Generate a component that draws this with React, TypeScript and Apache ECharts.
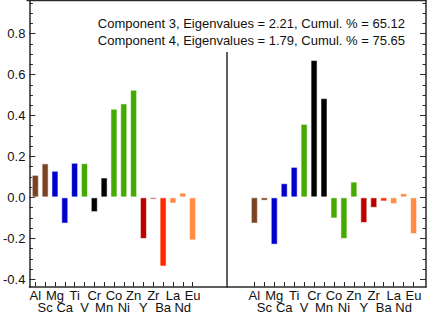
import React, { useEffect, useRef } from "react";
import * as echarts from "echarts";

const elements = ["Al", "Sc", "Mg", "Ca", "Ti", "V", "Cr", "Mn", "Co", "Ni", "Zn", "Y", "Zr", "Ba", "La", "Nd", "Eu"];
const comp3 = [0.11, 0.166, 0.13, -0.128, 0.169, 0.167, -0.072, 0.097, 0.433, 0.459, 0.526, -0.203, -0.01, -0.338, -0.03, 0.023, -0.21];
const comp4 = [-0.128, -0.016, -0.231, 0.069, 0.149, 0.359, 0.671, 0.485, -0.103, -0.203, 0.077, -0.125, -0.051, -0.02, -0.033, 0.02, -0.179];
const elementGroups = ["brown", "brown", "blue", "blue", "blue", "green", "black", "black", "green", "green", "green", "darkred", "darkred", "red", "orange", "orange", "orange"];
const groupColors: Record<string, string> = {
  brown: "#7a4424",
  blue: "#0000cc",
  green: "#44aa00",
  black: "#000000",
  darkred: "#bb0000",
  red: "#ff2a00",
  orange: "#ff8c42",
};
const titles = [
  "Component 3, Eigenvalues = 2.21, Cumul. % = 65.12",
  "Component 4, Eigenvalues = 1.79, Cumul. % = 75.65",
];
const majorTicks = [-0.4, -0.2, 0, 0.2, 0.4, 0.6, 0.8];
const minorTicks = [-0.4, -0.35, -0.3, -0.25, -0.2, -0.15, -0.1, -0.05, 0, 0.05, 0.1, 0.15, 0.2, 0.25, 0.3, 0.35, 0.4, 0.45, 0.5, 0.55, 0.6, 0.65, 0.7, 0.75, 0.8, 0.85, 0.9, 0.95];

const FONT = "Liberation Sans, Arial, sans-serif";
const LINE = "#2a2a2a";
const Y_MIN = -0.438;
const Y_MAX = 0.962;

export default function App() {
  const ref = useRef<HTMLDivElement>(null);
  useEffect(() => {
    if (!ref.current) return;
    const chart = echarts.init(ref.current, null, { renderer: "svg" });
    const idx = elements.map((_, i) => i);
    const evens = idx.filter((i) => i % 2 === 0);
    const odds = idx.filter((i) => i % 2 === 1);

    const makeX = (gridIndex: number, min: number, max: number, main: boolean) => ({
      type: "value",
      gridIndex,
      position: "bottom",
      min,
      max,
      axisLine: { show: main, onZero: false, lineStyle: { color: LINE, width: 1.5 } },
      axisTick: { show: main, inside: true, length: 5, customValues: idx, lineStyle: { color: LINE, width: 1 } },
      axisLabel: {
        show: true,
        customValues: main ? evens : odds,
        showMinLabel: true,
        showMaxLabel: true,
        hideOverlap: false,
        margin: main ? 2 : 14,
        fontSize: 13,
        fontFamily: FONT,
        color: "#111",
        lineHeight: 12,
        formatter: (v: number) => elements[Math.round(v)] ?? "",
      },
      splitLine: { show: false },
    });

    const makeY = (gridIndex: number, position: string, major: boolean, showLabel: boolean) => ({
      type: "value",
      gridIndex,
      position,
      min: Y_MIN,
      max: Y_MAX,
      axisLine: { show: major, onZero: false, lineStyle: { color: LINE, width: 1.5 } },
      axisTick: {
        show: true,
        inside: true,
        length: major ? 6 : 3.5,
        customValues: major ? majorTicks : minorTicks,
        lineStyle: { color: LINE, width: 1 },
      },
      axisLabel: {
        show: showLabel,
        customValues: majorTicks,
        showMinLabel: true,
        showMaxLabel: true,
        margin: 4,
        fontSize: 13,
        fontFamily: FONT,
        color: "#111",
        formatter: (v: number) => v.toFixed(1),
      },
      splitLine: { show: false },
    });

    const mkData = (vals: number[]) =>
      vals.map((v, i) => ({
        value: [i, v],
        itemStyle: {
          color: groupColors[elementGroups[i]],
          borderColor: "rgba(255,255,255,0.55)",
          borderWidth: 1,
        },
      }));

    chart.setOption({
      animation: false,
      grid: [
        { left: 27, top: 0.5, width: 200, bottom: 27 },
        { left: 227, top: 0.5, width: 199, bottom: 27 },
      ],
      xAxis: [
        makeX(0, -0.6, 19.5, true),
        makeX(0, -0.6, 19.5, false),
        makeX(1, -2.75, 17.25, true),
        makeX(1, -2.75, 17.25, false),
      ],
      yAxis: [
        makeY(0, "left", true, true),
        makeY(0, "left", false, false),
        makeY(1, "right", true, false),
        makeY(1, "right", false, false),
      ],
      series: [
        {
          type: "bar",
          xAxisIndex: 0,
          yAxisIndex: 0,
          barWidth: 7,
          data: mkData(comp3),
        },
        {
          type: "bar",
          xAxisIndex: 2,
          yAxisIndex: 2,
          barWidth: 7,
          data: mkData(comp4),
        },
      ],
      graphic: [
        { type: "line", shape: { x1: 26.5, y1: 0.5, x2: 426.5, y2: 0.5 }, style: { stroke: LINE, lineWidth: 1.5 } },
        { type: "line", shape: { x1: 227, y1: 52, x2: 227, y2: 287 }, style: { stroke: LINE, lineWidth: 1.5 } },
        {
          type: "text",
          x: 405,
          y: 23,
          style: { text: titles[0], fontSize: 13, fontFamily: FONT, fill: "#111", textAlign: "right", textVerticalAlign: "middle" },
        },
        {
          type: "text",
          x: 405,
          y: 40,
          style: { text: titles[1], fontSize: 13, fontFamily: FONT, fill: "#111", textAlign: "right", textVerticalAlign: "middle" },
        },
      ],
    });
    return () => chart.dispose();
  }, []);
  return <div ref={ref} style={{ width: 429, height: 314, position: "absolute", left: 0, top: 0 }} />;
}
